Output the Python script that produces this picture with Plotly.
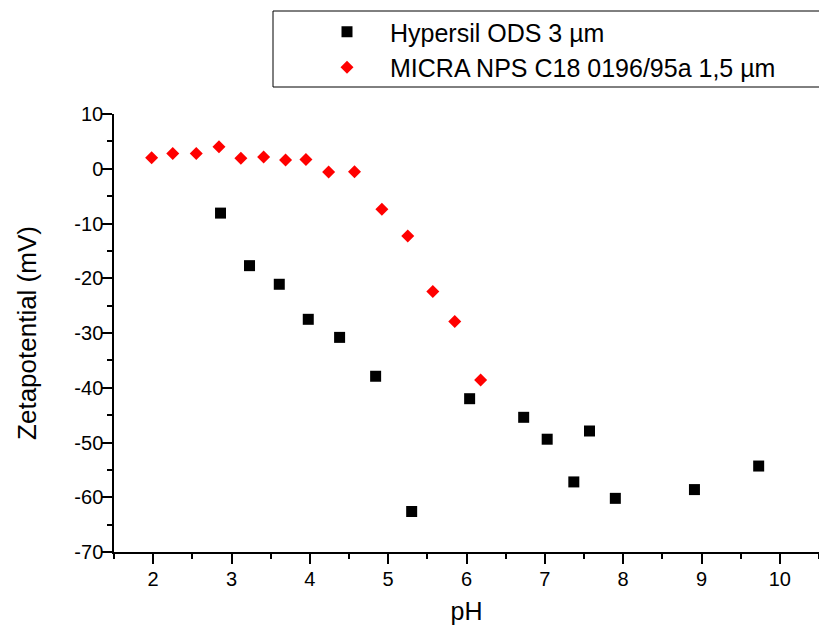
import plotly.graph_objects as go

hyp_name = "Hypersil ODS 3 µm"
hyp_ph = [2.86, 3.23, 3.61, 3.98, 4.38, 4.84, 5.30, 6.04, 6.73, 7.03, 7.37, 7.57, 7.90, 8.91, 9.73]
hyp_zeta = [-8.1, -17.7, -21.1, -27.5, -30.8, -37.9, -62.6, -42.0, -45.4, -49.4, -57.2, -47.9, -60.2, -58.6, -54.3]

micra_name = "MICRA NPS C18 0196/95a 1,5 µm"
micra_ph = [1.98, 2.25, 2.55, 2.84, 3.12, 3.41, 3.69, 3.95, 4.24, 4.57, 4.92, 5.25, 5.57, 5.85, 6.18]
micra_zeta = [2.0, 2.8, 2.8, 4.0, 1.9, 2.15, 1.6, 1.7, -0.58, -0.53, -7.4, -12.3, -22.4, -27.9, -38.6]

x_ticks = [2, 3, 4, 5, 6, 7, 8, 9, 10]
y_ticks = [10, 0, -10, -20, -30, -40, -50, -60, -70]

FONT = "Arial, Liberation Sans, sans-serif"

fig = go.Figure()
fig.add_trace(go.Scatter(x=hyp_ph, y=hyp_zeta, mode="markers", name=hyp_name,
                         marker=dict(symbol="square", size=11, color="black", line=dict(width=0))))
fig.add_trace(go.Scatter(x=micra_ph, y=micra_zeta, mode="markers", name=micra_name,
                         marker=dict(symbol="diamond", size=10, color="#ff0000", line=dict(width=0))))

axis_common = dict(showgrid=False, zeroline=False, showline=True, linecolor="black", linewidth=1.5,
                   ticks="outside", ticklen=10, tickwidth=1.5, tickcolor="black",
                   tickfont=dict(family=FONT, size=20, color="black"),
                   mirror=False)

fig.update_xaxes(range=[1.5, 10.5], tickvals=x_ticks, ticktext=[str(v) for v in x_ticks],
                 minor=dict(dtick=0.5, tick0=1.5, ticks="outside", ticklen=5, tickwidth=1.5, tickcolor="black"),
                 title=dict(text="pH", font=dict(family=FONT, size=25, color="black"), standoff=14),
                 ticklabelstandoff=-2,
                 **axis_common)
fig.update_yaxes(range=[-70, 10], tickvals=y_ticks, ticktext=[str(v) for v in y_ticks],
                 minor=dict(dtick=5, tick0=0, ticks="outside", ticklen=5, tickwidth=1.5, tickcolor="black"),
                 title=dict(text="Zetapotential (mV)", font=dict(family=FONT, size=26, color="black"), standoff=30),
                 ticklabelstandoff=-5,
                 **axis_common)

# legend frame
fig.add_shape(type="rect", xref="paper", yref="paper",
              x0=(273 - 114) / 705, x1=1.02, y0=(552 - 87) / 438, y1=(552 - 11) / 438,
              line=dict(color="black", width=1), fillcolor="rgba(0,0,0,0)", layer="above")

fig.update_layout(
    width=819, height=628,
    margin=dict(l=114, r=0, t=114, b=76),
    paper_bgcolor="white", plot_bgcolor="white",
    showlegend=True,
    legend=dict(x=(304 - 114) / 705, y=(552 - 9) / 438, xanchor="left", yanchor="top",
                font=dict(family=FONT, size=25, color="black"),
                bgcolor="rgba(0,0,0,0)", borderwidth=0, itemwidth=76, tracegroupgap=0),
)

fig.write_html("out.html")
